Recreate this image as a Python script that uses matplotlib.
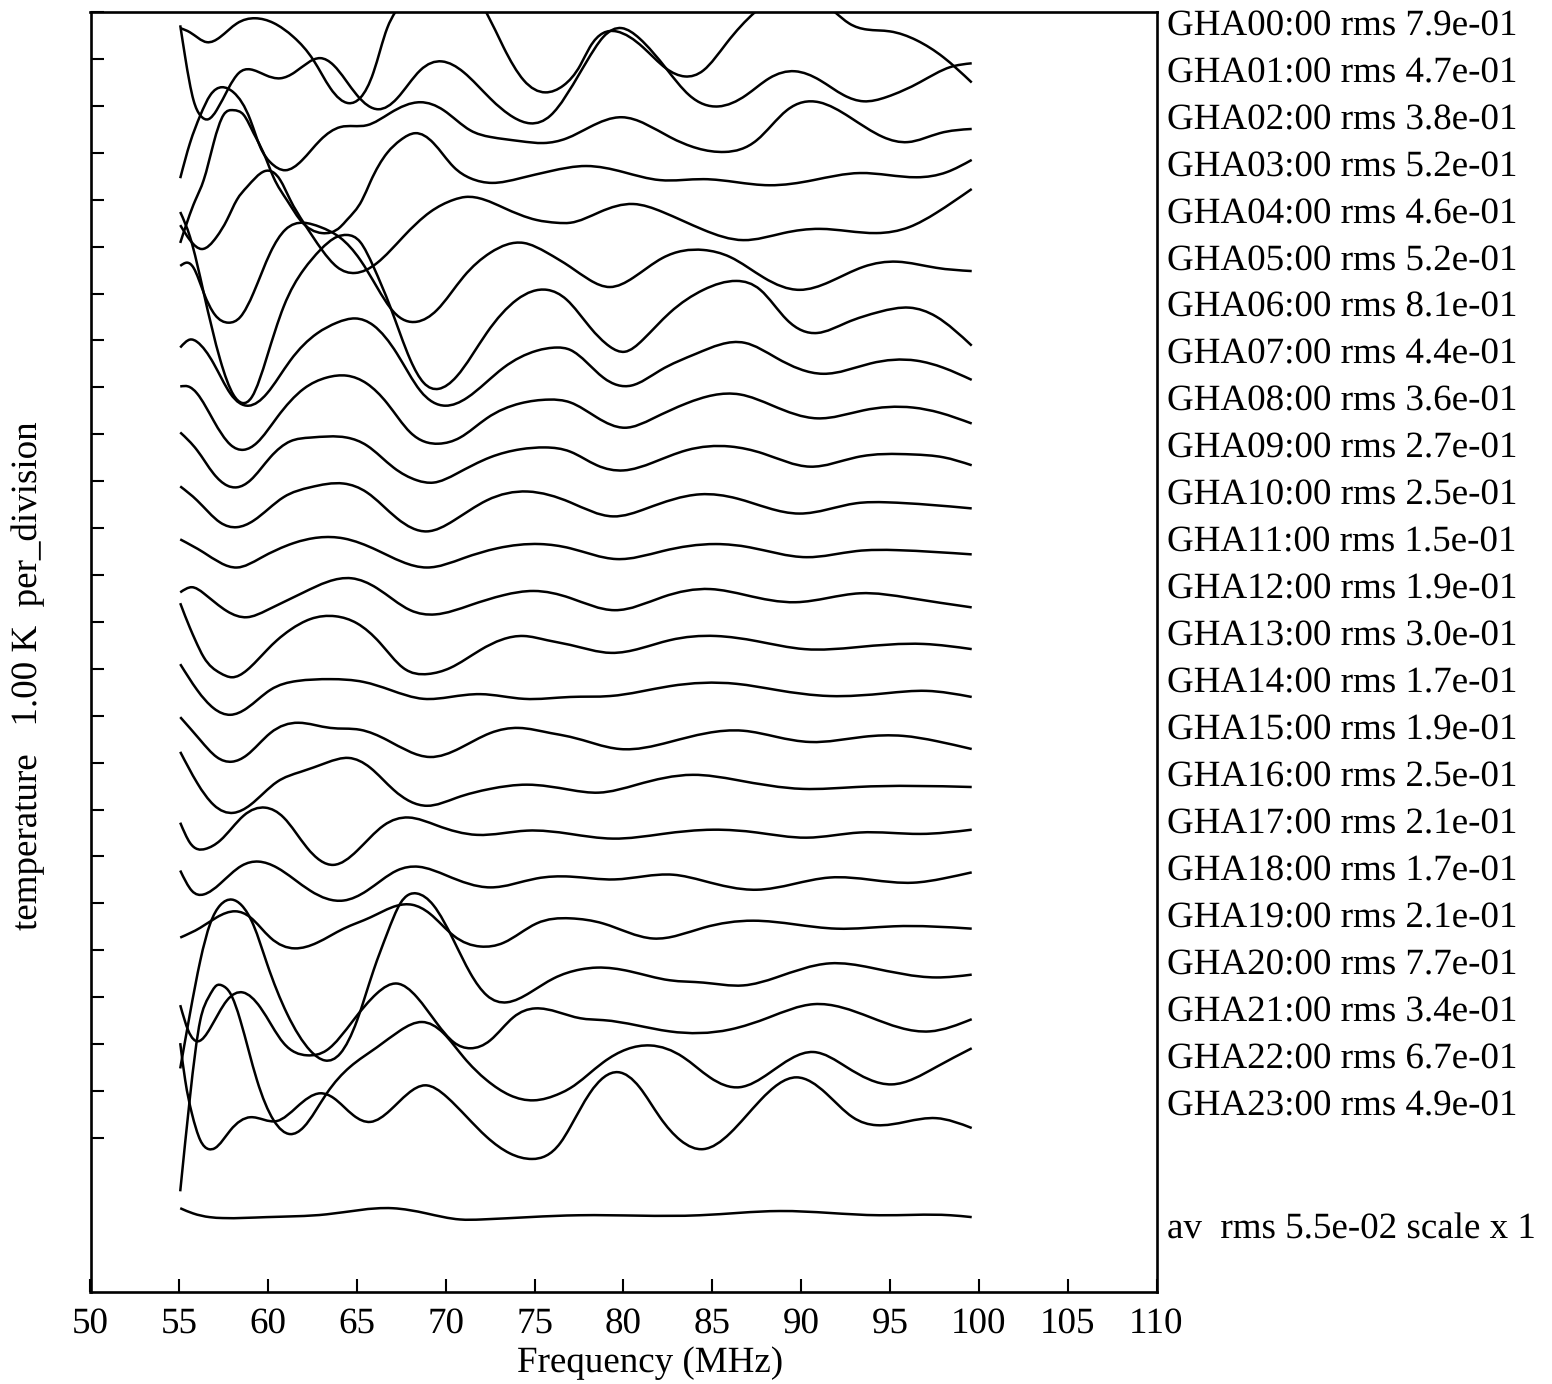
import matplotlib
matplotlib.use('Agg')
import matplotlib.pyplot as plt
from matplotlib.path import Path
from matplotlib.patches import PathPatch
import numpy as np

# residuals, K around each trace's own zero
gha00_freq = [55.05,55.6,56.55,57.3,58.24,59.27,60.3,61.43,62.56,63.5,64.53,65.2,65.93,66.7,67.15,69.7,72.31,73.25,74.38,75.6,76.63,77.57,78.1,79.6,81.1,82.4,83.45,84.5,85.8,87.4,89.7,91.9,92.7,93.7,95.0,96.5,98.0,99.6]
gha00_temp = [.41,.32,.11,.22,.51,.62,.52,.22,-.28,-.87,-1.19,-1.07,-.53,.41,.75,1.60,.72,0,-.70,-.96,-.81,-.38,0,.34,0,-.45,-.62,-.49,.09,.75,1.17,.75,.51,.38,.34,.15,-.21,-.75]
gha01_freq = [55.05,55.33,55.8,56.18,56.65,57.1,57.77,58.34,59.0,59.84,60.68,61.5,62.93,63.68,65.0,66.2,67.25,68.56,69.78,71.0,72.5,73.8,74.75,75.9,77.57,77.9,78.86,79.9,80.9,82.4,83.7,85.33,86.9,88.2,89.65,91.05,92.4,93.5,94.8,96.7,98.4,99.6]
gha01_temp = [1.47,.79,-.13,-.45,-.53,-.34,.13,.45,.53,.41,.34,.47,.77,.62,-.02,-.32,-.09,.51,.70,.47,-.09,-.49,-.62,-.45,.47,.68,1.22,1.41,1.19,.55,-.02,-.26,-.02,.34,.49,.30,-.02,-.15,-.06,.26,.58,.66]
gha02_freq = [55.05,55.6,56.18,56.74,57.4,58.05,59.0,59.56,60.12,60.96,61.9,62.93,64.06,65.56,66.87,68.56,69.87,71.38,72.5,74.19,75.5,76.8,78.1,79.9,82.6,85.7,87.5,89.2,91.0,92.74,94.6,96.0,97.8,99.6]
gha02_temp = [-.79,-.04,.55,.98,1.15,1.04,.45,-.13,-.45,-.62,-.41,.02,.30,.34,.60,.83,.66,.23,.09,0,-.04,.06,.30,.51,.09,-.23,.02,.66,.83,.51,.09,-.02,.17,.26]
gha03_freq = [55.05,55.9,56.37,56.93,57.49,58.05,58.62,59.18,59.74,60.3,61.06,61.8,63.03,64.06,64.43,65.28,65.75,66.7,67.44,68.28,69.3,70.44,71.38,72.6,74.19,75.88,77.9,80.0,82.05,84.5,88.2,90.7,93.3,96.5,98.2,99.6]
gha03_temp = [-1.17,-.26,.17,.96,1.56,1.66,1.56,1.17,.75,.23,-.26,-.68,-.96,-.83,-.68,-.26,.13,.75,1.02,1.17,.96,.45,.21,.11,.21,.36,.47,.34,.17,.19,.06,.17,.32,.23,.34,.60]
gha04_freq = [55.05,55.6,56.27,57.1,57.68,58.24,58.8,59.8,60.68,61.24,62.0,63.03,63.87,64.9,66.12,67.6,69.12,70.44,71.1,73.25,75.1,76.25,77.0,78.67,80.55,82.2,84.5,86.74,89.0,91.05,94.24,96.1,97.6,99.6]
gha04_temp = [.21,-.11,-.30,-.04,.32,.75,1.02,1.36,1.17,.75,.26,-.32,-.68,-.81,-.60,-.04,.49,.75,.81,.58,.32,.26,.26,.49,.66,.49,.11,-.11,.04,.13,.04,.17,.47,.98]
gha05_freq = [55.05,55.43,55.8,56.37,57.0,57.77,58.43,59.18,60.12,60.96,62.0,62.93,64.06,65.18,66.12,67.06,68.37,69.5,71.0,72.5,74.38,75.7,77.0,78.1,79.23,80.55,82.2,84.5,86.0,87.9,89.9,91.6,93.5,95.4,97.6,99.6]
gha05_temp = [.34,.41,.30,-.23,-.70,-.87,-.75,-.23,.62,1.11,1.26,1.17,.94,.47,-.11,-.64,-.85,-.60,.11,.62,.83,.62,.32,.04,-.11,.09,.51,.68,.53,.09,-.17,0,.32,.43,.30,.23]
gha06_freq = [55.05,55.6,56.37,57.3,58.05,58.52,59.09,59.93,60.87,62.0,62.93,63.87,64.43,65.18,65.93,66.87,68.0,68.75,69.6,70.6,72.3,74.0,75.7,76.8,78.1,79.23,80.07,81.1,82.6,84.5,86.36,87.7,89.2,90.9,92.55,94.4,96.1,97.6,99.6]
gha06_temp = [2.49,1.96,.77,-.66,-1.41,-1.58,-1.45,-.60,.47,1.26,1.68,1.96,2.00,1.85,1.32,.47,-.66,-1.15,-1.28,-1.02,-.09,.62,.83,.62,.04,-.38,-.49,-.23,.34,.83,1.02,.83,.19,-.09,.13,.36,.45,.26,-.36]
gha07_freq = [55.05,55.6,56.0,56.93,57.87,58.9,59.93,61.24,62.75,63.87,64.9,65.93,67.25,68.56,69.97,71.2,73.25,75.1,76.25,77.0,78.86,80.45,82.05,84.1,86.83,88.6,91.24,93.9,96.5,98.0,99.6]
gha07_temp = [.60,.77,.72,.26,-.38,-.64,-.38,.32,.90,1.13,1.22,1.07,.47,-.32,-.64,-.47,.17,.53,.60,.55,-.04,-.21,.11,.47,.70,.38,.04,.26,.32,.17,-.09]
gha08_freq = [55.05,55.5,56.0,56.93,57.87,58.62,59.37,60.5,62.0,63.3,64.43,65.56,66.7,68.0,69.6,70.8,72.3,74.2,75.8,77.0,78.5,80.07,81.67,83.55,86.55,88.4,90.9,93.5,96.3,97.8,99.6]
gha08_temp = [.77,.77,.62,.04,-.47,-.58,-.43,.11,.72,.96,1.00,.83,.41,-.21,-.45,-.32,.09,.41,.49,.43,.11,-.11,.09,.41,.60,.36,.09,.26,.32,.21,-.02]
gha09_freq = [55.05,56.0,56.93,57.68,58.24,59.0,60.12,61.24,62.37,64.43,65.56,67.06,68.37,69.3,70.6,72.5,74.19,75.6,77.0,78.5,80.0,81.67,83.55,86.0,87.86,90.5,93.1,96.3,98.0,99.6]
gha09_temp = [.79,.41,-.09,-.34,-.38,-.23,.26,.60,.68,.68,.51,.04,-.23,-.28,-.09,.26,.43,.47,.38,.09,-.02,.15,.41,.49,.34,.06,.26,.32,.26,.09]
gha10_freq = [55.05,56.0,57.3,58.24,59.18,60.87,62.37,64.25,65.56,67.25,68.94,70.44,72.3,74.6,77.0,79.4,81.3,84.3,86.4,89.9,93.1,94.8,99.6]
gha10_temp = [.64,.34,-.13,-.23,-.09,.41,.62,.70,.51,-.04,-.32,-.09,.34,.53,.30,0,.17,.47,.38,.06,.28,.30,.17]
gha11_freq = [55.05,56.37,58.24,59.56,61.43,64.25,66.12,68.94,71.0,72.9,75.3,77.0,79.6,82.2,85.2,87.1,90.3,93.1,95.4,99.6]
gha11_temp = [.51,.23,-.09,.11,.43,.53,.28,-.09,.11,.32,.41,.32,.09,.26,.41,.34,.13,.26,.28,.19]
gha12_freq = [55.05,55.7,56.37,57.68,58.8,59.93,62.0,64.7,66.12,68.0,69.4,71.4,73.25,74.94,77.0,79.5,82.2,84.9,86.9,89.7,93.3,96.1,99.6]
gha12_temp = [.38,.49,.36,-.02,-.15,0,.38,.68,.47,0,-.09,.11,.32,.41,.26,0,.28,.45,.32,.17,.36,.26,.06]
gha13_freq = [55.05,55.6,55.9,56.37,57.3,57.96,58.8,59.93,60.5,61.24,62.37,63.8,65.0,66.3,67.6,69.0,70.25,71.94,74.38,75.7,77.0,79.3,82.6,85.2,87.5,90.2,93.1,96.9,99.6]
gha13_temp = [1.15,.62,.36,0,-.34,-.43,-.28,.15,.36,.58,.81,.87,.72,.30,-.23,-.36,-.23,.15,.45,.36,.26,.09,.36,.45,.34,.17,.21,.28,.17]
gha14_freq = [55.05,56.0,56.93,57.87,58.8,60.12,61.62,63.5,65.37,66.87,68.75,70.25,71.94,74.4,77.0,79.25,82.6,86.36,88.6,91.6,94.8,97.05,99.6]
gha14_temp = [.85,.30,-.09,-.23,-.09,.30,.49,.53,.47,.30,.11,.15,.21,.11,.15,.17,.38,.43,.30,.17,.23,.28,.15]
gha15_freq = [55.05,56.18,57.1,57.96,58.8,60.12,61.7,63.5,65.18,66.7,69.1,70.8,72.5,74.1,75.9,77.0,79.8,82.6,86.74,88.6,90.5,93.5,95.74,97.6,99.6]
gha15_temp = [.72,.23,-.13,-.23,-.09,.38,.60,.49,.45,.23,-.13,.06,.38,.49,.38,.30,.04,.19,.43,.30,.19,.30,.32,.21,.04]
gha16_freq = [55.05,56.0,56.93,58.05,59.0,60.5,61.8,63.3,64.53,65.75,67.06,68.94,70.6,72.5,74.56,77.0,78.6,80.75,83.9,86.36,90.1,93.1,99.6]
gha16_temp = [.98,.32,-.15,-.32,-.15,.34,.55,.75,.85,.64,.17,-.17,0,.19,.28,.17,.11,.28,.49,.38,.19,.23,.23]
gha17_freq = [55.05,55.6,56.46,57.3,58.62,59.84,60.87,62.18,63.68,65.0,66.5,67.9,69.5,71.75,74.56,77.0,79.4,82.2,85.05,87.5,90.3,93.3,96.7,99.6]
gha17_temp = [.47,.04,-.09,.09,.62,.79,.58,-.06,-.43,-.13,.41,.58,.41,.21,.30,.23,.13,.23,.32,.26,.15,.26,.23,.32]
gha18_freq = [55.05,55.7,56.37,57.3,58.5,59.46,60.5,62.37,64.25,65.56,67.25,68.47,70.06,72.5,75.1,77.0,79.5,82.8,84.5,87.5,91.6,96.3,98.0,99.6]
gha18_temp = [.45,.02,-.06,.17,.55,.64,.51,.02,-.19,.02,.45,.53,.34,.09,.28,.32,.26,.36,.23,.04,.30,.19,.28,.41]
gha19_freq = [55.05,56.18,57.1,58.15,59.0,60.12,61.5,62.75,64.25,65.75,67.25,68.1,69.1,70.44,71.94,73.25,75.1,77.0,78.86,81.67,84.5,87.3,92.0,95.2,99.6]
gha19_temp = [.02,.23,.45,.58,.45,.02,-.21,-.09,.21,.45,.70,.72,.53,.06,-.17,-.09,.32,.43,.32,0,.23,.38,.21,.26,.21]
gha20_freq = [55.05,55.6,56.18,56.74,57.3,57.96,58.5,59.18,59.93,61.06,62.37,63.2,64.06,65.0,65.93,66.7,67.44,68.37,69.3,70.44,71.38,72.3,73.44,74.75,76.07,77.57,78.5,80.36,82.6,84.5,86.74,88.6,91.6,93.9,97.6,99.6]
gha20_temp = [-1.77,-.60,.53,1.32,1.71,1.83,1.71,1.28,.47,-.60,-1.39,-1.60,-1.45,-.75,.32,1.11,1.75,1.96,1.71,.96,.26,-.21,-.36,-.15,.15,.34,.38,.30,.11,.06,0,.17,.47,.38,.17,.23]
gha21_freq = [55.05,55.5,56.08,56.74,57.68,58.58,59.56,60.87,62.18,63.3,64.8,66.12,67.25,68.37,69.5,70.44,71.38,72.5,73.8,75.03,77.57,78.86,82.6,86.0,88.2,90.7,93.9,97.24,99.6]
gha21_temp = [.58,.04,-.19,.09,.68,.85,.53,-.23,-.49,-.38,.26,.83,1.04,.75,.19,-.21,-.34,-.17,.32,.51,.30,.26,.02,.06,.32,.60,.32,.02,.28]
gha22_freq = [55.05,55.6,56.18,56.65,57.1,57.4,57.87,58.43,59.37,60.3,61.24,62.0,63.3,64.6,66.12,67.44,68.66,69.87,71.0,72.3,73.6,74.94,76.44,77.0,78.86,81.5,83.36,84.86,86.55,88.2,90.7,92.55,95.1,97.6,99.6]
gha22_temp = [-2.39,-.38,1.26,1.75,2.00,2.00,1.83,1.26,-.02,-.87,-1.17,-1.02,-.30,.26,.68,1.04,1.22,.98,.47,-.02,-.34,-.45,-.30,-.19,.36,.72,.47,.04,-.17,.13,.58,.26,-.11,.26,.66]
gha23_freq = [55.05,55.33,55.7,56.18,56.65,57.0,57.87,59.0,60.5,61.62,62.93,63.68,64.8,65.75,66.87,68.84,70.06,72.3,73.6,74.85,76.44,77.0,78.1,79.7,80.9,82.05,83.2,84.5,86.0,87.7,89.74,91.4,92.9,94.24,97.6,99.6]
gha23_temp = [1.77,.98,.28,-.30,-.49,-.47,-.09,.19,.11,.41,.70,.60,.23,.09,.34,.87,.62,-.23,-.58,-.70,-.36,-.02,.70,1.15,.83,.19,-.30,-.49,-.15,.55,1.04,.70,.19,.02,.17,-.04]
av_freq = [55.05,55.77,56.7,57.45,59.9,63.3,67.0,68.9,70.8,72.0,77.5,84.3,88.8,94.4,98.4,99.6]
av_temp = [.15,.04,-.04,-.06,-.04,.02,.15,.04,-.09,-.09,0,0,.09,0,0,-.04]

rms_text = ['7.9e-01','4.7e-01','3.8e-01','5.2e-01','4.6e-01','5.2e-01','8.1e-01','4.4e-01',
            '3.6e-01','2.7e-01','2.5e-01','1.5e-01','1.9e-01','3.0e-01','1.7e-01','1.9e-01',
            '2.5e-01','2.1e-01','1.7e-01','2.1e-01','7.7e-01','3.4e-01','6.7e-01','4.9e-01']
x_ticks = list(range(50, 111, 5))

traces = [(gha00_freq, gha00_temp), (gha01_freq, gha01_temp), (gha02_freq, gha02_temp),
          (gha03_freq, gha03_temp), (gha04_freq, gha04_temp), (gha05_freq, gha05_temp),
          (gha06_freq, gha06_temp), (gha07_freq, gha07_temp), (gha08_freq, gha08_temp),
          (gha09_freq, gha09_temp), (gha10_freq, gha10_temp), (gha11_freq, gha11_temp),
          (gha12_freq, gha12_temp), (gha13_freq, gha13_temp), (gha14_freq, gha14_temp),
          (gha15_freq, gha15_temp), (gha16_freq, gha16_temp), (gha17_freq, gha17_temp),
          (gha18_freq, gha18_temp), (gha19_freq, gha19_temp), (gha20_freq, gha20_temp),
          (gha21_freq, gha21_temp), (gha22_freq, gha22_temp), (gha23_freq, gha23_temp)]

W, H = 1552, 1384
FS = 26.6
LW = 1.8
plt.rcParams['font.family'] = ['Liberation Serif', 'DejaVu Serif']
plt.rcParams['text.hinting'] = 'no_hinting'
plt.rcParams['text.hinting_factor'] = 1


def knot_slopes(x, y):
    # natural cubic spline tangents, C2 so the read values join without wobble
    h = np.diff(x)
    s = np.diff(y) / h
    n = len(x)
    a = np.zeros((n, n))
    b = np.zeros(n)
    a[0, 0], a[0, 1] = 2, 1
    b[0] = 3 * s[0]
    a[-1, -1], a[-1, -2] = 2, 1
    b[-1] = 3 * s[-1]
    for k in range(1, n - 1):
        a[k, k - 1] = h[k]
        a[k, k] = 2 * (h[k - 1] + h[k])
        a[k, k + 1] = h[k - 1]
        b[k] = 3 * (h[k] * s[k - 1] + h[k - 1] * s[k])
    return np.linalg.solve(a, b)


def smooth_line(ax, freq, temp):
    x = np.array(freq)
    y = np.array(temp)
    slope = knot_slopes(x, y)
    verts = [(x[0], y[0])]
    codes = [Path.MOVETO]
    for k in range(len(x) - 1):
        d = (x[k + 1] - x[k]) / 3
        verts += [(x[k] + d, y[k] + slope[k] * d),
                  (x[k + 1] - d, y[k + 1] - slope[k + 1] * d),
                  (x[k + 1], y[k + 1])]
        codes += [Path.CURVE4] * 3
    ax.add_patch(PathPatch(Path(verts, codes), fill=False, edgecolor='black',
                           linewidth=LW, joinstyle='round', capstyle='butt'))


fig = plt.figure(figsize=(W / 100, H / 100), dpi=100)
ax = fig.add_axes([90.5 / W, 1 - 1291.7 / H, 1066 / W, 1280 / H])
ax.set_xlim(50, 110)
ax.set_ylim(0, 27.29)

for i, (freq, temp) in enumerate(traces):
    smooth_line(ax, freq, np.array(temp) + 26.53 - i)
    ax.text(110.58, 26.79 - 1.0013 * i, 'GHA%02d:00 rms %s' % (i, rms_text[i]),
            fontsize=FS, va='baseline', ha='left', clip_on=False)
smooth_line(ax, av_freq, np.array(av_temp) + 1.63)
ax.text(110.58, 1.14, 'av  rms 5.5e-02 scale x 1', fontsize=FS, va='baseline', ha='left', clip_on=False)

ax.set_xticks(x_ticks)
ax.set_yticks(np.arange(25) + 3.28)
ax.set_yticklabels([])
ax.tick_params(axis='both', direction='in', length=9.4, width=1.5, labelsize=FS, pad=11)
for s in ax.spines.values():
    s.set_linewidth(1.9)

fig.text(650 / W, 1 - 1372 / H, 'Frequency (MHz)', fontsize=FS, ha='center', va='baseline')
fig.text(28 / W, 1 - 676 / H, 'temperature   1.00 K  per_division', fontsize=FS,
         rotation=90, ha='center', va='center')

fig.savefig('out.png', dpi=100)
